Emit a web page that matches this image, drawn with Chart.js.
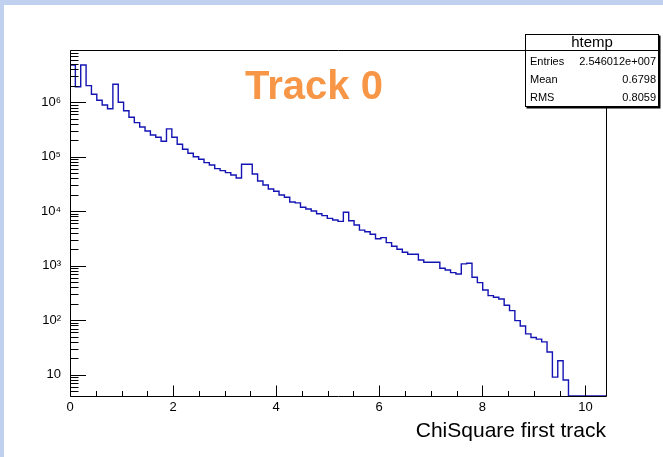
<!DOCTYPE html>
<html>
<head>
<meta charset="utf-8">
<script src="https://cdn.jsdelivr.net/npm/chart.js@4"></script>
<style>
  html, body { margin: 0; padding: 0; background: #fff; }
  #wrap { width: 659px; height: 452px; border-left: 4px solid #c0d0ef; border-top: 5px solid #c0d0ef; background: #fff; }
  canvas { display: block; }
</style>
</head>
<body>
<div id="wrap"><canvas id="chi2" width="659" height="452"></canvas></div>
<script>
// htemp: 100 bins over [0, 10.4]
const xMin = 0;
const xMax = 10.4;
const binWidth = 0.104;
const binCounts = [
  4840000, 1930000, 4840000, 2020000, 1400000, 1090000, 890000, 760000, 2140000, 1000000,
  700000, 530000, 423000, 352000, 297000, 251000, 228000, 192000, 324000, 228000,
  169000, 137000, 116000, 100000, 90000, 78000, 70600, 60400, 55500, 51000,
  46300, 40800, 72800, 72800, 48300, 35900, 30300, 25600, 23200, 19900,
  18000, 14800, 14200, 11800, 11000, 10100, 9000, 8300, 7400, 6900,
  6500, 9600, 6700, 5600, 4500, 4200, 3780, 3130, 3270, 2650,
  2280, 2000, 1770, 1620, 1620, 1270, 1160, 1160, 1160, 898,
  835, 745, 705, 1080, 1110, 614, 489, 359, 282, 264,
  245, 188, 150, 98, 78, 56, 48, 45, 40, 26,
  9, 18, 8, 0, 0, 0, 0, 0, 0, 0
];

const xTickValues = [0, 2, 4, 6, 8, 10];
const yTickValues = [10, 100, 1000, 10000, 100000, 1000000];
const yTickLabels = ['10', '10²', '10³', '10⁴', '10⁵', '10⁶'];
const yMin = 4.06;
const yMax = 9.1e6;

const statNames = ['Entries', 'Mean', 'RMS'];
const statValues = ['2.546012e+007', '0.6798', '0.8059'];
const histName = 'htemp';
const plotTitle = 'Track 0';

// empty bins sit on the frame floor, as ROOT draws them on a log axis
const points = binCounts.map((c, i) => ({ x: xMin + i * binWidth, y: c > 0 ? c : yMin }));
points.push({ x: xMax, y: points[points.length - 1].y });

const FONT = 'Liberation Sans, Arial, sans-serif';

// frame, inward ticks, stats box and title
const rootDecor = {
  id: 'rootDecor',
  afterDatasetsDraw(chart) {
    const { ctx, chartArea: a, scales: { x, y } } = chart;
    const L = Math.round(a.left) + 0.5, R = Math.round(a.right) + 0.5;
    const T = Math.round(a.top) + 0.5, B = Math.round(a.bottom) + 0.5;
    ctx.save();
    ctx.strokeStyle = '#000';
    ctx.lineWidth = 1;
    ctx.beginPath();
    ctx.rect(L, T, R - L, B - T);
    for (let k = 0; k * 0.5 <= xMax; k++) {
      const px = Math.round(x.getPixelForValue(k * 0.5)) + 0.5;
      const len = k % 4 === 0 ? 11 : 5.5;
      ctx.moveTo(px, B);
      ctx.lineTo(px, B - len);
    }
    for (let e = 0; e <= 7; e++) {
      for (let m = 1; m <= 9; m++) {
        const v = m * Math.pow(10, e);
        if (v < yMin || v > yMax) continue;
        const py = Math.round(y.getPixelForValue(v)) + 0.5;
        ctx.moveTo(L, py);
        ctx.lineTo(L + (m === 1 ? 15.5 : 8), py);
      }
    }
    ctx.stroke();
    ctx.restore();
  },
  afterDraw(chart) {
    const { ctx } = chart;
    ctx.save();
    // stats box
    const bx = 521.5, by = 29.5, bw = 133, bh = 72;
    ctx.fillStyle = '#000';
    ctx.fillRect(bx + 1, by + 1, bw + 1, bh + 1);
    ctx.fillStyle = '#fff';
    ctx.fillRect(bx, by, bw, bh);
    ctx.strokeStyle = '#000';
    ctx.lineWidth = 1;
    ctx.strokeRect(bx, by, bw, bh);
    ctx.beginPath();
    ctx.moveTo(bx, 45.5);
    ctx.lineTo(bx + bw, 45.5);
    ctx.stroke();
    ctx.fillStyle = '#000';
    ctx.textBaseline = 'middle';
    ctx.textAlign = 'center';
    ctx.font = '15px ' + FONT;
    ctx.fillText(histName, bx + bw / 2, 37.5);
    ctx.font = '11px ' + FONT;
    statNames.forEach((name, i) => {
      const ty = 56.5 + i * 18.2;
      ctx.textAlign = 'left';
      ctx.fillText(name, 526, ty);
      ctx.textAlign = 'right';
      ctx.fillText(statValues[i], 652, ty);
    });
    // title
    ctx.fillStyle = '#f79646';
    ctx.font = 'bold 40px ' + FONT;
    ctx.textAlign = 'center';
    ctx.textBaseline = 'alphabetic';
    ctx.fillText(plotTitle, 310, 94);
    ctx.restore();
  }
};

new Chart(document.getElementById('chi2').getContext('2d'), {
  type: 'line',
  data: {
    datasets: [{
      data: points,
      stepped: 'before',
      borderColor: '#1414b4',
      borderWidth: 1.4,
      pointRadius: 0,
      fill: false
    }]
  },
  options: {
    responsive: false,
    animation: false,
    devicePixelRatio: 1,
    layout: { padding: { left: 0, top: 45, right: 57, bottom: 0 } },
    plugins: { legend: { display: false }, tooltip: { enabled: false } },
    scales: {
      x: {
        type: 'linear',
        min: xMin,
        max: xMax,
        grid: { display: false, drawTicks: false },
        border: { display: false },
        afterBuildTicks: s => { s.ticks = xTickValues.map(v => ({ value: v })); },
        ticks: { color: '#000', font: { family: FONT, size: 13 }, padding: 4, maxRotation: 0, autoSkip: false },
        title: {
          display: true,
          text: 'ChiSquare first track',
          align: 'end',
          color: '#000',
          font: { family: FONT, size: 21 },
          padding: { top: 0, bottom: 13 }
        },
        afterFit: s => { s.height = 61; }
      },
      y: {
        type: 'logarithmic',
        min: yMin,
        max: yMax,
        grid: { display: false, drawTicks: false },
        border: { display: false },
        afterBuildTicks: s => { s.ticks = yTickValues.map(v => ({ value: v })); },
        ticks: {
          color: '#000',
          font: { family: FONT, size: 13 },
          padding: 9,
          autoSkip: false,
          callback: (v, i) => yTickLabels[i]
        },
        afterFit: s => { s.width = 66; }
      }
    }
  },
  plugins: [rootDecor]
});
</script>
</body>
</html>
